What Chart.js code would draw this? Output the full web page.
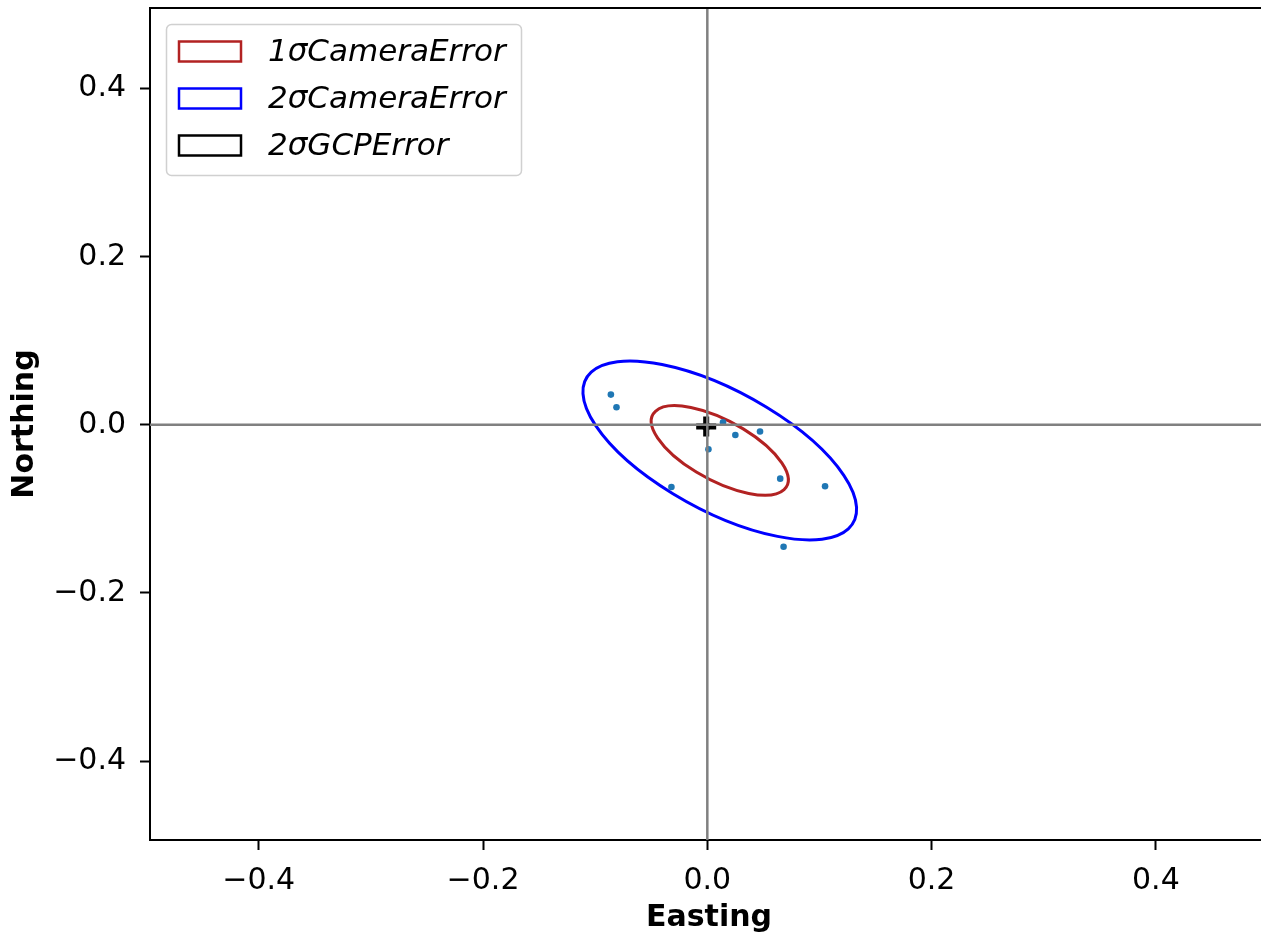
<!DOCTYPE html>
<html><head><meta charset="utf-8">
<script src="https://cdn.jsdelivr.net/npm/chart.js@4.4.1/dist/chart.umd.min.js"></script>
<style>html,body{margin:0;padding:0;overflow:hidden;background:#fff}
#wrap{position:absolute;left:0;top:0;width:1280px;height:941px}</style>
</head><body><div id="wrap"><canvas id="c" width="1280" height="941"></canvas></div>
<script>
// ---- data ----
const xTickValues = [-0.4, -0.2, 0.0, 0.2, 0.4];
const yTickValues = [-0.4, -0.2, 0.0, 0.2, 0.4];
const xLimits = [-0.497, 0.5];
const yLimits = [-0.494, 0.496];
const pointEasting  = [-0.086, -0.081, 0.014, 0.025, 0.047, 0.001, -0.032, 0.065, 0.105, 0.068];
const pointNorthing = [0.036, 0.021, 0.003, -0.012, -0.008, -0.029, -0.074, -0.064, -0.073, -0.145];
const gcpEasting  = [-0.001];
const gcpNorthing = [-0.002];
const ellipseNames   = ['1σCameraError', '2σCameraError', '2σGCPError'];
const ellipseCenterE = [0.0111, 0.0111, -0.001];
const ellipseCenterN = [-0.0305, -0.0305, -0.002];
const ellipseWidth   = [0.1478, 0.2955, 0.006];
const ellipseHeight  = [0.0663, 0.1325, 0.006];
const ellipseAngle   = [-39.1, -39.1, 0];
const xTitle = 'Easting';
const yTitle = 'Northing';

// ---- style ----
const ellipseColors = ['#b22222', '#0000ff', '#000000'];
const FONT = "'DejaVu Sans'";
const fmt = v => (v < 0 ? '\u2212' : '') + Math.abs(v).toFixed(1);

const ellipsePlugin = {
  id: 'ellipses',
  beforeDatasetsDraw(chart) {
    const {ctx, chartArea: a, scales: {x, y}} = chart;
    const kx = x.getPixelForValue(1) - x.getPixelForValue(0);
    const ky = y.getPixelForValue(0) - y.getPixelForValue(1);
    ctx.save();
    ctx.beginPath(); ctx.rect(a.left, a.top, a.right - a.left, a.bottom - a.top); ctx.clip();
    for (let i = 0; i < ellipseNames.length; i++) {
      ctx.save();
      ctx.translate(x.getPixelForValue(ellipseCenterE[i]), y.getPixelForValue(ellipseCenterN[i]));
      ctx.scale(kx, -ky);
      ctx.rotate(ellipseAngle[i] * Math.PI / 180);
      ctx.beginPath();
      ctx.ellipse(0, 0, ellipseWidth[i] / 2, ellipseHeight[i] / 2, 0, 0, 2 * Math.PI);
      ctx.restore();
      ctx.strokeStyle = ellipseColors[i];
      ctx.lineWidth = 3;
      ctx.stroke();
    }
    ctx.restore();
  },
  afterDatasetsDraw(chart) {
    const {ctx, chartArea: a, scales: {x, y}} = chart;
    ctx.save();
    ctx.beginPath(); ctx.rect(a.left, a.top, a.right - a.left, a.bottom - a.top); ctx.clip();
    ctx.strokeStyle = '#808080';
    ctx.lineWidth = 2.5;
    const x0 = x.getPixelForValue(0), y0 = y.getPixelForValue(0);
    ctx.beginPath(); ctx.moveTo(x0, a.top); ctx.lineTo(x0, a.bottom); ctx.stroke();
    ctx.beginPath(); ctx.moveTo(a.left, y0); ctx.lineTo(a.right, y0); ctx.stroke();
    ctx.restore();
    // top / right spines
    ctx.save();
    ctx.strokeStyle = '#000'; ctx.lineWidth = 2;
    ctx.beginPath(); ctx.moveTo(a.left, a.top); ctx.lineTo(a.right, a.top); ctx.lineTo(a.right, a.bottom); ctx.stroke();
    ctx.restore();
    // legend
    ctx.save();
    const bx = 166.5, by = 24.5, bw = 355, bh = 151;
    ctx.beginPath();
    ctx.roundRect(bx, by, bw, bh, 5);
    ctx.fillStyle = 'rgba(255,255,255,0.8)'; ctx.fill();
    ctx.strokeStyle = '#d0d0d0'; ctx.lineWidth = 1.5; ctx.stroke();
    ctx.font = `italic 31px ${FONT}`;
    ctx.textBaseline = 'middle';
    ctx.textAlign = 'left';
    for (let i = 0; i < ellipseNames.length; i++) {
      const cy = 51.5 + 47 * i;
      ctx.strokeStyle = ellipseColors[i]; ctx.lineWidth = 2.5;
      ctx.strokeRect(179, cy - 10, 62, 20);
      ctx.fillStyle = '#000';
      ctx.fillText(ellipseNames[i], 268, cy + 1);
    }
    ctx.restore();
  }
};

const points = pointEasting.map((e, i) => ({x: e, y: pointNorthing[i]}));
const gcp = gcpEasting.map((e, i) => ({x: e, y: gcpNorthing[i]}));

new Chart(document.getElementById('c'), {
  type: 'scatter',
  data: {
    datasets: [
      {data: points, backgroundColor: '#1f77b4', borderWidth: 0, pointRadius: 3.3},
      {data: gcp, pointStyle: 'cross', pointRadius: 10, borderWidth: 6, borderColor: '#000', backgroundColor: '#000'}
    ]
  },
  options: {
    responsive: false, animation: false, devicePixelRatio: 1,
    layout: {autoPadding: false, padding: {left: 0, top: 8, right: 12, bottom: 0}},
    plugins: {legend: {display: false}, tooltip: {enabled: false}},
    scales: {
      x: {
        type: 'linear', min: xLimits[0], max: xLimits[1],
        afterBuildTicks: s => { s.ticks = xTickValues.map(v => ({value: v})); },
        afterFit: s => { s.height = 101; s.paddingLeft = 0; s.paddingRight = 0; },
        ticks: {font: {family: FONT, size: 30}, color: '#000', padding: 13, callback: fmt, maxRotation: 0, autoSkip: false},
        grid: {display: true, drawOnChartArea: false, drawTicks: true, tickLength: 10, tickWidth: 2, tickColor: '#000'},
        border: {display: true, color: '#000', width: 2},
        title: {display: true, text: xTitle, color: '#000', font: {family: FONT, size: 30, weight: 'bold'}, padding: {top: 0, bottom: 5}}
      },
      y: {
        type: 'linear', min: yLimits[0], max: yLimits[1],
        afterBuildTicks: s => { s.ticks = yTickValues.map(v => ({value: v})); },
        afterFit: s => { s.width = 150; s.paddingTop = 0; s.paddingBottom = 0; },
        ticks: {font: {family: FONT, size: 30}, color: '#000', padding: 14, callback: fmt, autoSkip: false},
        grid: {display: true, drawOnChartArea: false, drawTicks: true, tickLength: 10, tickWidth: 2, tickColor: '#000'},
        border: {display: true, color: '#000', width: 2},
        title: {display: true, text: yTitle, color: '#000', font: {family: FONT, size: 30, weight: 'bold'}, padding: {top: 7, bottom: 0}}
      }
    }
  },
  plugins: [ellipsePlugin]
});
</script></body></html>
